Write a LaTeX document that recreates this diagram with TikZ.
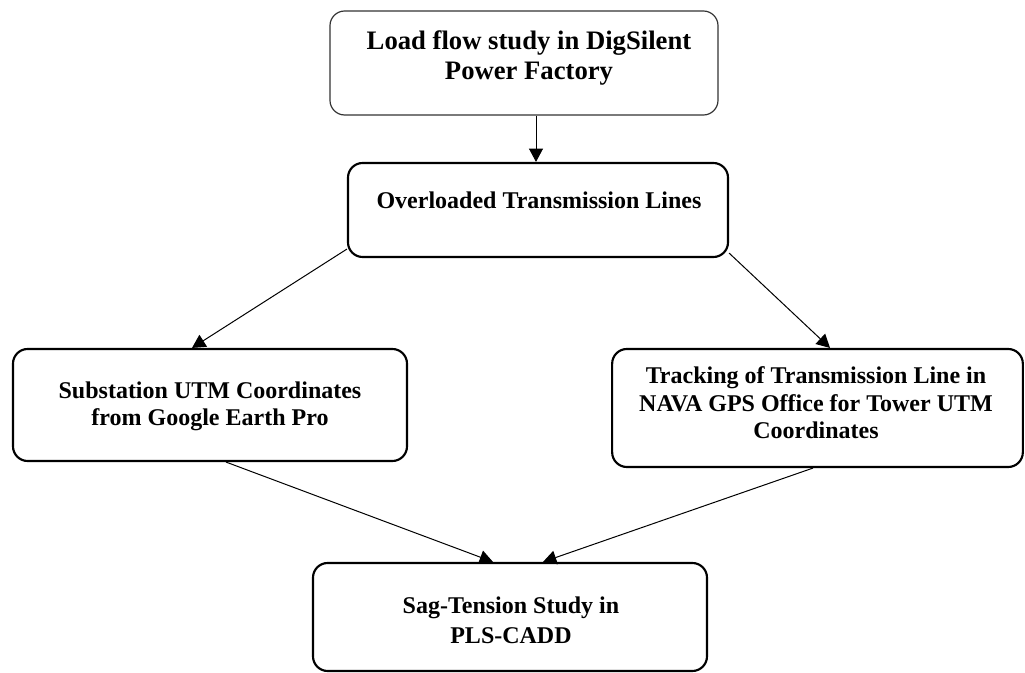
\documentclass[tikz,border=0pt]{standalone}
\usepackage{fontspec}
\setmainfont{Liberation Serif}
\usetikzlibrary{arrows.meta}
\begin{document}
\begin{tikzpicture}[x=0.75pt,y=-0.75pt,
  boxthin/.style={draw=black!80,line width=0.9pt,rounded corners=11pt,inner sep=0pt},
  boxthick/.style={draw=black,line width=1.6pt,rounded corners=11pt,inner sep=0pt},
  txt/.style={align=center,font=\bfseries\fontsize{18}{20.5}\selectfont,inner sep=0pt},
  arr/.style={draw=black,line width=0.75pt,-{Triangle[length=10pt,width=10.5pt]}}]
\useasboundingbox (0,0) rectangle (1025,673);
\node[boxthin,minimum width=291pt,minimum height=78pt] (b1) at (524,63) {};
\node[txt,font=\bfseries\fontsize{20}{22.5}\selectfont] (t1) at (529,58) {Load flow study in DigSilent\\Power Factory};
\node[boxthick,minimum width=285pt,minimum height=70.5pt] (b2) at (538,210) {};
\node[txt] (t2) at (539,200) {Overloaded Transmission Lines};
\node[boxthick,minimum width=295.5pt,minimum height=84pt] (b3) at (210,405) {};
\node[txt] (t3) at (210,406) {Substation UTM Coordinates\\from Google Earth Pro};
\node[boxthick,minimum width=308pt,minimum height=88.5pt] (b4) at (817.5,408) {};
\node[txt] (t4) at (816,403) {Tracking of Transmission Line in\\NAVA GPS Office for Tower UTM\\Coordinates};
\node[boxthick,minimum width=295.5pt,minimum height=81pt] (b5) at (510,617) {};
\node[txt,font=\bfseries\fontsize{18}{22.5}\selectfont] (t5) at (511,620) {Sag-Tension Study in\\PLS-CADD};
\draw[arr] (b1.south -| 536,0) -- (b2.north -| 536,0);
\draw[arr] ([yshift=6.75pt]b2.south west) -- (b3.north -| 192,0);
\draw[arr] ([yshift=3.75pt]b2.south east) -- (b4.north -| 830,0);
\draw[arr] (b3.south -| 226,0) -- (b5.north -| 493,0);
\draw[arr] (b4.south -| 813,0) -- (b5.north -| 543,0);
\end{tikzpicture}
\end{document}
